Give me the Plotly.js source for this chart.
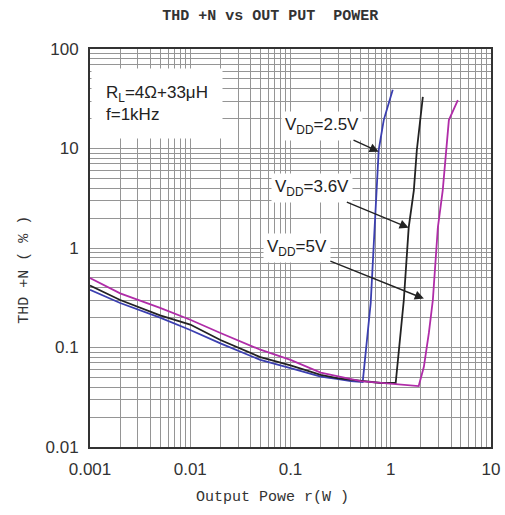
<!DOCTYPE html>
<html>
<head>
<meta charset="utf-8">
<script src="https://cdn.plot.ly/plotly-3.0.1.min.js"></script>
<style>html,body{margin:0;padding:0;background:#fff;}#chart{width:505px;height:515px;}</style>
</head>
<body>
<div id="chart"></div>
<script>
// Output power (W) and THD+N (%)
const x25 = [0.001, 0.002, 0.005, 0.01, 0.02, 0.05, 0.1, 0.2, 0.3, 0.4, 0.525, 0.575, 0.631, 0.692, 0.759, 0.851, 1.047];
const y25 = [0.38, 0.28, 0.20, 0.15, 0.11, 0.075, 0.062, 0.051, 0.048, 0.046, 0.045, 0.116, 0.28, 1.66, 9.7, 19.3, 38.9];

const x36 = [0.001, 0.002, 0.005, 0.01, 0.02, 0.05, 0.1, 0.2, 0.3, 0.5, 0.8, 1.12, 1.35, 1.51, 1.70, 1.82, 2.09];
const y36 = [0.42, 0.30, 0.21, 0.17, 0.119, 0.08, 0.066, 0.053, 0.049, 0.046, 0.044, 0.044, 0.30, 1.6, 3.8, 9.6, 33];

const x50 = [0.001, 0.002, 0.005, 0.01, 0.02, 0.05, 0.1, 0.2, 0.5, 1.0, 1.9, 2.14, 2.4, 2.63, 2.95, 3.3, 3.55, 3.8, 4.67];
const y50 = [0.50, 0.35, 0.25, 0.19, 0.14, 0.095, 0.075, 0.056, 0.046, 0.043, 0.041, 0.064, 0.14, 0.30, 1.6, 3.8, 9.6, 19.3, 30.6];

const xTickVals = [0.001, 0.01, 0.1, 1, 10];
const xTickText = ['0.001', '0.01', '0.1', '1', '10'];
const yTickVals = [0.01, 0.1, 1, 10, 100];
const yTickText = ['0.01', '0.1', '1', '10', '100'];

const chartTitle = 'THD +N vs OUT PUT  POWER';
const xTitle = 'Output Powe r(W )';
const yTitle = 'THD +N ( % )';

const seriesNames = ['VDD=2.5V', 'VDD=3.6V', 'VDD=5V'];
const annTexts = ['V<sub>DD</sub>=2.5V', 'V<sub>DD</sub>=3.6V', 'V<sub>DD</sub>=5V'];
const annX = [0.759, 1.51, 2.14];
const annY = [9.3, 1.6, 0.31];

function minorVals(lo, hi) {
  const v = [];
  for (let d = lo; d < hi; d *= 10) for (let k = 2; k <= 9; k++) v.push(+(d * k).toPrecision(3));
  return v;
}

const gridColor = '#959595';
const traces = [
  {x: x25, y: y25, name: seriesNames[0], mode: 'lines', line: {color: '#3b3fb0', width: 1.8}},
  {x: x36, y: y36, name: seriesNames[1], mode: 'lines', line: {color: '#222222', width: 1.8}},
  {x: x50, y: y50, name: seriesNames[2], mode: 'lines', line: {color: '#b02ca8', width: 1.8}}
];

const labelFont = {family: 'Liberation Sans, Arial, sans-serif', size: 17, color: '#222'};
const titleFont = {family: 'Liberation Mono, DejaVu Sans Mono, monospace', size: 15, color: '#333'};
const arrowOffsets = [[-57, -26], [-97, -40], [-127, -51]];
const annotations = annTexts.map((t, i) => ({
  x: Math.log10(annX[i]), y: Math.log10(annY[i]), xref: 'x', yref: 'y',
  text: t, showarrow: true, ax: arrowOffsets[i][0], ay: arrowOffsets[i][1],
  arrowhead: 2, arrowsize: 1.3, arrowwidth: 1.4, arrowcolor: '#222',
  bgcolor: '#ffffff', borderpad: 3, font: labelFont
}));
annotations.push({
  xref: 'paper', yref: 'paper', x: 0.003, y: 0.953, xanchor: 'left', yanchor: 'top', align: 'left',
  text: 'R<sub>L</sub>=4Ω+33μH<br>f=1kHz', showarrow: false, bgcolor: '#ffffff', borderpad: 14,
  font: labelFont
});
// axis titles placed as in the reference (offset from the plot centre)
annotations.push({
  xref: 'paper', yref: 'paper', x: 0.455, y: -0.126, xanchor: 'center', yanchor: 'middle',
  text: xTitle, showarrow: false, font: titleFont
});
annotations.push({
  xref: 'paper', yref: 'paper', x: -0.1625, y: 0.445, xanchor: 'center', yanchor: 'middle',
  text: yTitle, textangle: -90, showarrow: false, font: titleFont
});

const axisCommon = {
  type: 'log', showline: true, mirror: true, linecolor: '#333', linewidth: 2,
  showgrid: true, gridcolor: gridColor, gridwidth: 1, zeroline: false,
  ticks: '', tickfont: {family: 'Liberation Sans, Arial, sans-serif', size: 17, color: '#333'}
};

const layout = {
  width: 505, height: 515,
  margin: {l: 90, r: 14, t: 49, b: 68},
  paper_bgcolor: '#fff', plot_bgcolor: '#fff',
  showlegend: false,
  title: {text: '<b>' + chartTitle + '</b>', x: 0.535, xanchor: 'center', y: 0.971, yanchor: 'middle',
          font: titleFont},
  xaxis: Object.assign({}, axisCommon, {
    range: [-3, 1], tickvals: xTickVals, ticktext: xTickText, ticklabelstandoff: 6,
    minor: {tickvals: minorVals(0.001, 10), showgrid: true, gridcolor: gridColor, gridwidth: 1}
  }),
  yaxis: Object.assign({}, axisCommon, {
    range: [-2, 2], tickvals: yTickVals, ticktext: yTickText, ticklabelstandoff: 6,
    minor: {tickvals: minorVals(0.01, 100), showgrid: true, gridcolor: gridColor, gridwidth: 1}
  }),
  annotations: annotations
};

Plotly.newPlot('chart', traces, layout, {displayModeBar: false, staticPlot: true});
</script>
</body>
</html>
